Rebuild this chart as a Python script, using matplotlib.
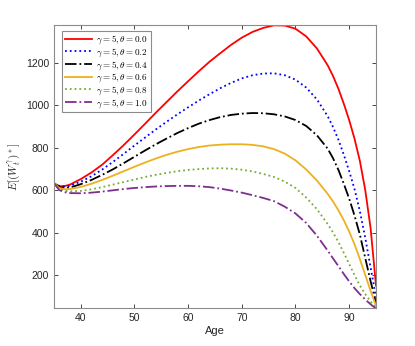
import matplotlib
matplotlib.use('Agg')
import matplotlib.pyplot as plt

plt.rcParams['font.family'] = ['Liberation Sans', 'DejaVu Sans']
plt.rcParams['mathtext.fontset'] = 'cm'

ages = [35, 36, 37, 38, 40, 42, 44, 46, 48, 50, 52, 54, 56, 58, 60, 62, 64, 66, 68,
        70, 72, 74, 76, 78, 80, 82, 84, 86, 87, 88, 89, 90, 91, 92, 93, 94, 95]

theta_0 = [632, 618, 619, 626, 652, 683, 720, 765, 812, 862, 913, 965, 1015, 1065, 1113,
           1160, 1205, 1245, 1284, 1318, 1345, 1364, 1376, 1375, 1360, 1324, 1267, 1188,
           1137, 1077, 1007, 930, 842, 737, 600, 420, 150]
theta_2 = [632, 620, 617, 620, 640, 665, 697, 733, 771, 810, 848, 886, 922, 957, 990,
           1022, 1052, 1080, 1105, 1126, 1141, 1149, 1150, 1141, 1120, 1083, 1027, 948,
           897, 837, 767, 690, 605, 500, 375, 235, 95]
theta_4 = [632, 614, 610, 612, 628, 648, 672, 698, 727, 757, 787, 816, 843, 869, 892,
           913, 930, 944, 954, 960, 963, 962, 957, 947, 930, 902, 858, 795,
           750, 695, 630, 560, 480, 390, 280, 170, 70]
theta_6 = [632, 610, 604, 605, 615, 630, 648, 668, 689, 710, 730, 749, 766, 781, 793,
           803, 810, 814, 816, 816, 813, 806, 793, 772, 740, 697, 645, 582,
           546, 505, 458, 405, 345, 275, 200, 125, 55]
theta_8 = [632, 606, 597, 594, 596, 604, 614, 626, 638, 650, 662, 672, 681, 689, 695,
           699, 702, 703, 701, 696, 688, 676, 662, 640, 610, 565, 510, 440,
           400, 355, 305, 252, 200, 150, 110, 75, 45]
theta_10 = [632, 600, 590, 586, 585, 588, 593, 599, 605, 610, 614, 617, 619, 620, 620,
            618, 614, 607, 598, 588, 576, 563, 548, 522, 490, 445, 385, 315,
            278, 242, 205, 170, 138, 110, 85, 62, 42]

series = [theta_0, theta_2, theta_4, theta_6, theta_8, theta_10]
thetas = ['0.0', '0.2', '0.4', '0.6', '0.8', '1.0']
colors = ['#ff0000', '#0000ff', '#000000', '#edb120', '#77ac30', '#7e2f8e']
styles = ['-', ':', '-.', '-', ':', '-.']

fig = plt.figure(figsize=(4.15, 3.46), dpi=100)
ax = fig.add_axes([0.130, 0.110, 0.776, 0.818])

for vals, th, c, ls in zip(series, thetas, colors, styles):
    ax.plot(ages, vals, color=c, linestyle=ls, linewidth=1.3,
            label=r'$\gamma = 5, \theta = %s$' % th)

ax.set_xlim(35, 95)
ax.set_ylim(45, 1378)
ax.set_xticks([40, 50, 60, 70, 80, 90])
ax.set_yticks([200, 400, 600, 800, 1000, 1200])
ax.tick_params(direction='in', top=True, right=True, labelsize=7.5,
               colors='#262626', length=3, width=0.6)
for s in ax.spines.values():
    s.set_color('#8c8c8c')
    s.set_linewidth(0.8)

ax.set_xlabel('Age', fontsize=8, color='#262626', labelpad=2)
ax.set_ylabel(r'$E[(W_t^\gamma)^*]$', fontsize=8, color='#262626', labelpad=2)

leg = ax.legend(loc='upper left', bbox_to_anchor=(0.025, 0.979), borderaxespad=0,
                fontsize=6.6, handlelength=3.0, labelspacing=0.0,
                borderpad=0.3, handletextpad=0.4,
                fancybox=False, framealpha=1)
leg.get_frame().set_edgecolor('#8c8c8c')
leg.get_frame().set_linewidth(0.8)

fig.savefig('out.png', dpi=100)
